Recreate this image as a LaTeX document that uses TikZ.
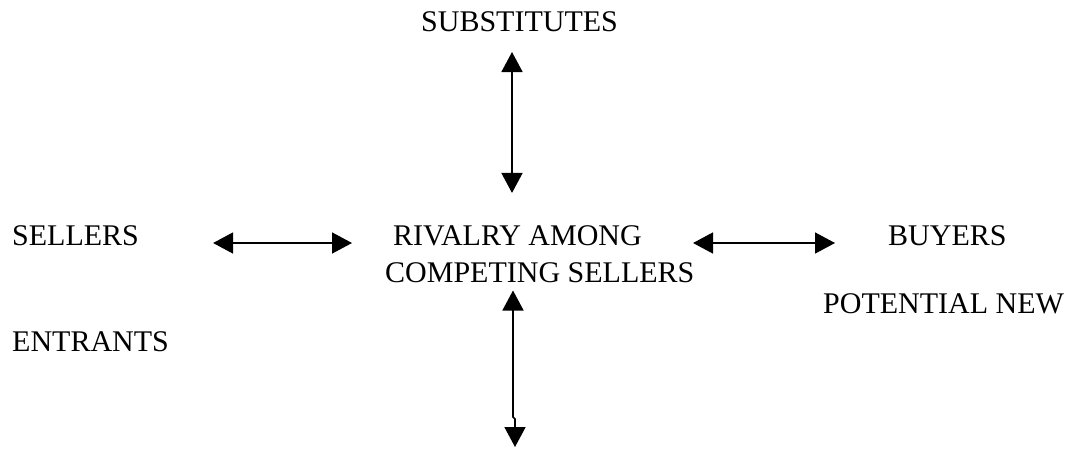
\documentclass[tikz,border=0pt]{standalone}
\usepackage{fontspec}
\setmainfont{Liberation Serif}
\usetikzlibrary{arrows.meta}

\begin{document}
\begin{tikzpicture}[
    x=1pt, y=-1pt,
    label/.style={inner sep=0pt, anchor=base west, font=\fontsize{30}{37}\selectfont},
    arr/.style={line width=1.6pt, {Triangle[length=20pt,width=21pt]}-{Triangle[length=20pt,width=21pt]}}
  ]
  \useasboundingbox (0,0) rectangle (1073,448);

  % labels
  \node[label] (substitutes) at (421,31)  {SUBSTITUTES};
  \node[label] (sellers)     at (12,245)  {SELLERS};
  \node[label] (rivalry)     at (393,245) {RIVALRY AMONG};
  \node[label] (competing)   at (385,282) {COMPETING SELLERS};
  \node[label] (buyers)      at (888,245) {BUYERS};
  \node[label] (potential)   at (823,313) {POTENTIAL NEW};
  \node[label] (entrants)    at (12,351)  {ENTRANTS};

  % vertical axes and the open end of the lower arrow
  \coordinate (axis)  at (512,0);
  \coordinate (kinka) at (513,417);
  \coordinate (kinkb) at (515,419);
  \coordinate (lowend) at (515,447);

  % horizontal arrows
  \draw[arr] ([xshift=74pt,yshift=2pt]sellers.base east) -- ([xshift=-41pt,yshift=2pt]rivalry.base west);
  \draw[arr] ([xshift=51pt,yshift=2pt]rivalry.base east) -- ([xshift=-53pt,yshift=2pt]buyers.base west);

  % vertical arrows
  \draw[arr, shorten <=21pt, shorten >=32pt] (substitutes.base -| axis) -- (rivalry.north -| axis);
  \draw[arr, shorten <=8pt] (competing.south -| kinka) -- (kinka) -- (kinkb) -- (lowend);
\end{tikzpicture}
\end{document}
